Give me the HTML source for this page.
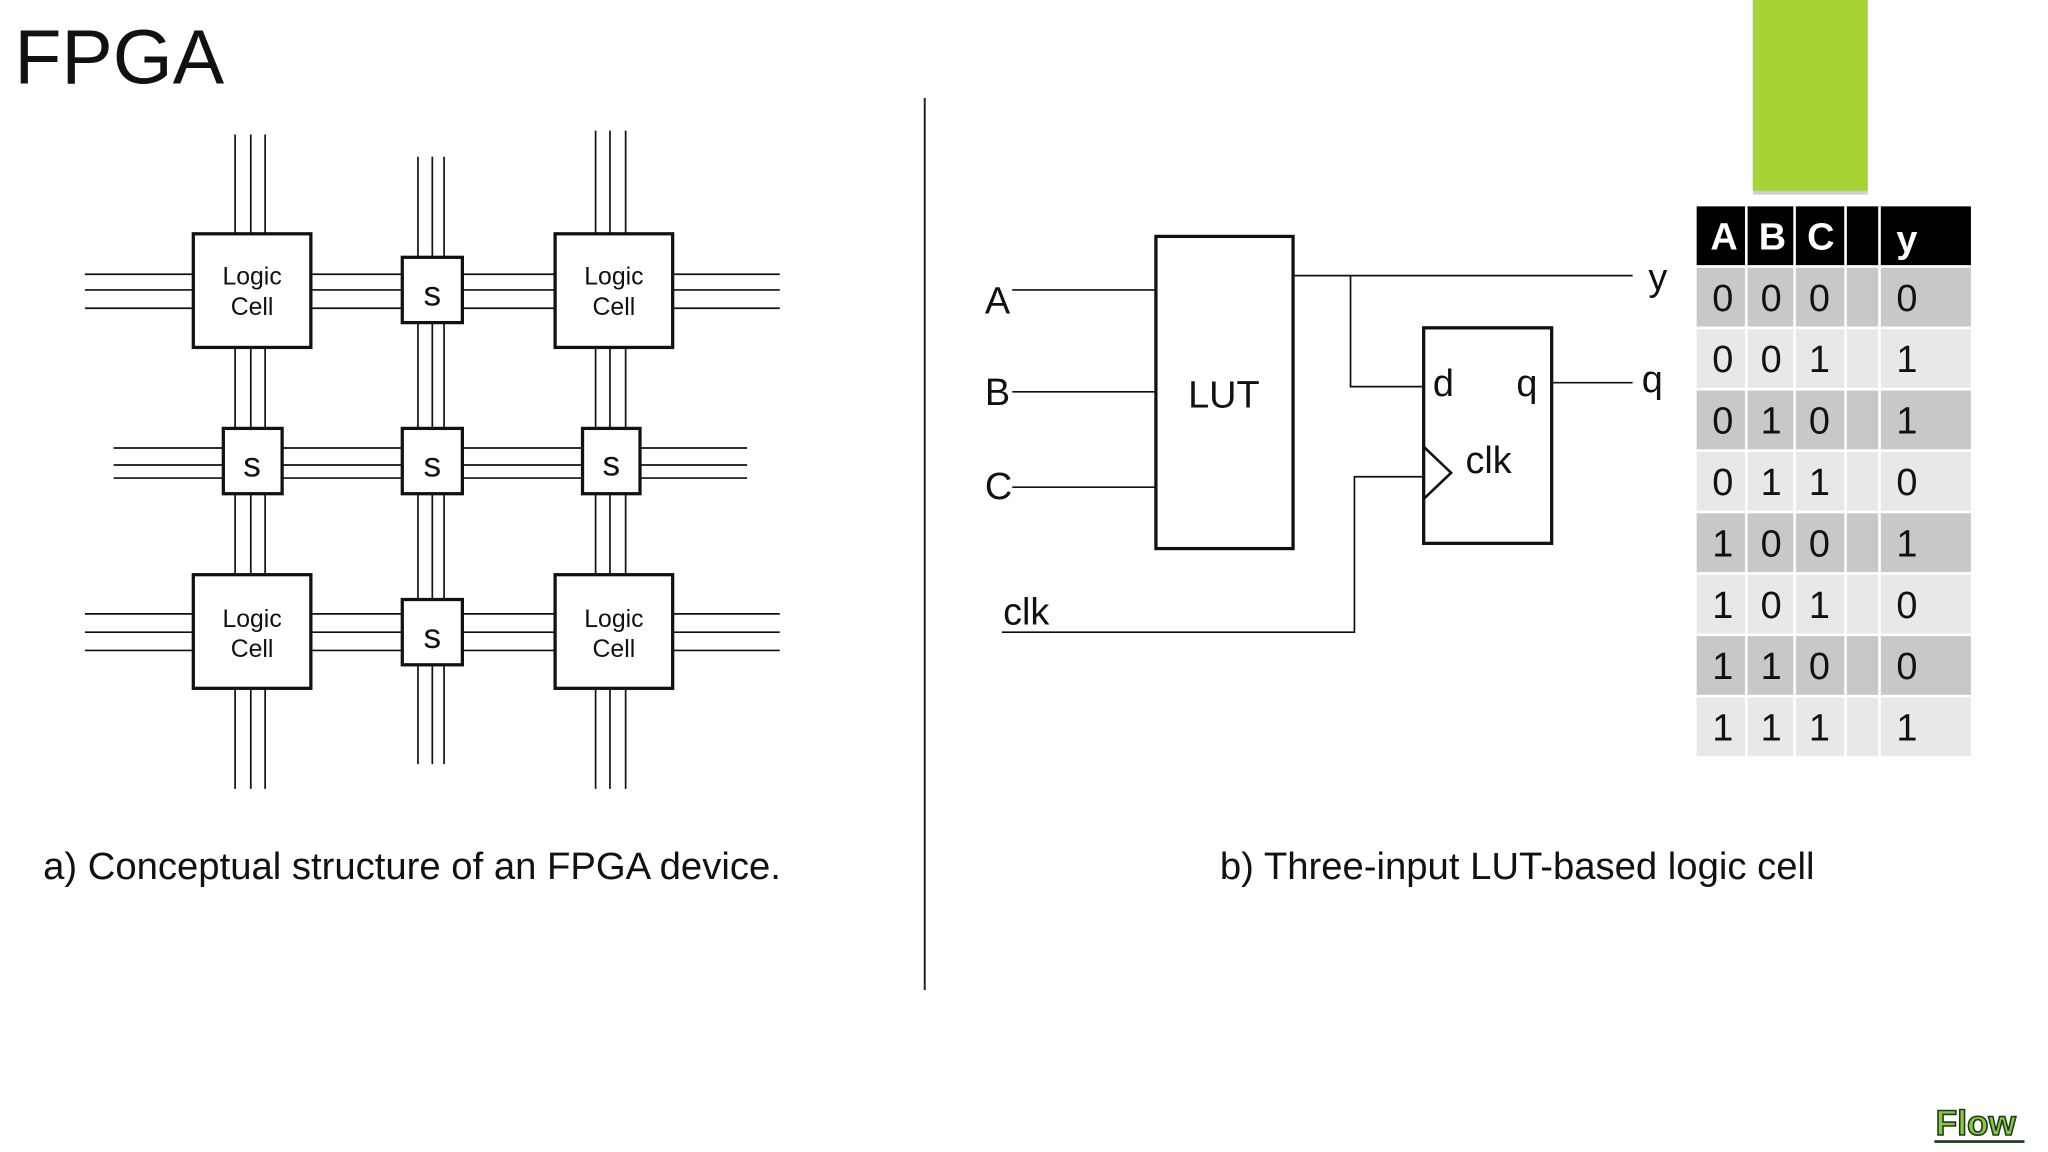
<!DOCTYPE html>
<html><head><meta charset="utf-8"><style>
html,body{margin:0;padding:0;background:#fff;}
svg{display:block;}
text{font-family:"Liberation Sans",Arial,sans-serif;fill:#111;}
</style></head><body>
<svg width="2048" height="1152" viewBox="0 0 1568 882" preserveAspectRatio="none" xmlns="http://www.w3.org/2000/svg">
<text x="11" y="64" font-size="59">FPGA</text>
<line x1="708" y1="75" x2="708" y2="758" stroke="#222" stroke-width="1.5"/>
<g stroke="#111" stroke-width="1.3" fill="none">
<line x1="65" y1="210" x2="597" y2="210"/><line x1="65" y1="222" x2="597" y2="222"/><line x1="65" y1="236" x2="597" y2="236"/>
<line x1="87" y1="343" x2="572" y2="343"/><line x1="87" y1="356" x2="572" y2="356"/><line x1="87" y1="366" x2="572" y2="366"/>
<line x1="65" y1="470" x2="597" y2="470"/><line x1="65" y1="484" x2="597" y2="484"/><line x1="65" y1="498" x2="597" y2="498"/>
<line x1="180" y1="103" x2="180" y2="604"/><line x1="192" y1="103" x2="192" y2="604"/><line x1="203" y1="103" x2="203" y2="604"/>
<line x1="320" y1="120" x2="320" y2="585"/><line x1="331" y1="120" x2="331" y2="585"/><line x1="340" y1="120" x2="340" y2="585"/>
<line x1="456" y1="100" x2="456" y2="604"/><line x1="467" y1="100" x2="467" y2="604"/><line x1="479" y1="100" x2="479" y2="604"/>
</g>
<g stroke="#111" stroke-width="2.5" fill="#fff">
<rect x="148" y="179" width="90" height="87"/><rect x="425" y="179" width="90" height="87"/>
<rect x="148" y="440" width="90" height="87"/><rect x="425" y="440" width="90" height="87"/>
<rect x="308" y="197" width="46" height="50"/>
<rect x="171" y="328" width="45" height="50"/><rect x="308" y="328" width="46" height="50"/><rect x="446" y="328" width="44" height="50"/>
<rect x="308" y="459" width="46" height="50"/>
</g>
<g font-size="19" text-anchor="middle">
<text x="193" y="218">Logic</text><text x="193" y="241">Cell</text>
<text x="470" y="218">Logic</text><text x="470" y="241">Cell</text>
<text x="193" y="480">Logic</text><text x="193" y="503">Cell</text>
<text x="470" y="480">Logic</text><text x="470" y="503">Cell</text>
</g>
<g font-size="27" text-anchor="middle">
<text x="331" y="234">s</text><text x="193" y="365">s</text><text x="331" y="365">s</text><text x="468" y="364">s</text><text x="331" y="496">s</text>
</g>
<text x="33" y="673" font-size="29.3">a) Conceptual structure of an FPGA device.</text>
<text x="934" y="673" font-size="29.3">b) Three-input LUT-based logic cell</text>
<g stroke="#111" stroke-width="1.3" fill="none">
<line x1="775" y1="222" x2="885" y2="222"/><line x1="775" y1="300" x2="885" y2="300"/><line x1="775" y1="373" x2="885" y2="373"/>
<polyline points="990,211 1250,211"/><polyline points="1034,211 1034,296 1090,296"/>
<line x1="1188" y1="293" x2="1250" y2="293"/>
<polyline points="767,484 1037,484 1037,365 1090,365"/>
</g>
<rect x="885" y="181" width="105" height="239" fill="none" stroke="#111" stroke-width="2.5"/>
<rect x="1090" y="251" width="98" height="165" fill="none" stroke="#111" stroke-width="2.5"/>
<polyline points="1090,342 1111,362 1090,382" fill="none" stroke="#111" stroke-width="2"/>
<g font-size="29">
<text x="754" y="240">A</text><text x="754" y="310">B</text><text x="754" y="382">C</text>
<text x="937" y="312" text-anchor="middle">LUT</text>
<text x="1262" y="222">y</text><text x="1257" y="300">q</text>
<text x="1097" y="303">d</text><text x="1161" y="303">q</text>
<text x="1122" y="362">clk</text><text x="768" y="478">clk</text>
</g>
<rect x="1342" y="0" width="88" height="149" fill="#9aa0a0" opacity="0.5"/>
<rect x="1342" y="0" width="88" height="146" fill="#a8d336"/>
<rect x="1299" y="158" width="210" height="45" fill="#000"/>
<g fill="#fff"><rect x="1336" y="158" width="2" height="45"/><rect x="1373" y="158" width="2" height="45"/><rect x="1412" y="158" width="2" height="45"/><rect x="1438" y="158" width="2" height="45"/></g>
<g font-size="29" font-weight="bold" text-anchor="middle">
<text x="1320" y="191" style="fill:#fff">A</text><text x="1357" y="191" style="fill:#fff">B</text><text x="1394" y="191" style="fill:#fff">C</text><text x="1460" y="193" style="fill:#fff">y</text>
</g>
<g>
<rect x="1299" y="205" width="210" height="45" fill="#c8c8c8"/>
<rect x="1299" y="252" width="210" height="45" fill="#e8e8e8"/>
<rect x="1299" y="299" width="210" height="45" fill="#c8c8c8"/>
<rect x="1299" y="346" width="210" height="45" fill="#e8e8e8"/>
<rect x="1299" y="393" width="210" height="45" fill="#c8c8c8"/>
<rect x="1299" y="440" width="210" height="45" fill="#e8e8e8"/>
<rect x="1299" y="487" width="210" height="45" fill="#c8c8c8"/>
<rect x="1299" y="534" width="210" height="45" fill="#e8e8e8"/>
</g>
<g fill="#fff"><rect x="1336" y="205" width="2" height="374"/><rect x="1373" y="205" width="2" height="374"/><rect x="1412" y="205" width="2" height="374"/><rect x="1438" y="205" width="2" height="374"/></g>
<g font-size="29" text-anchor="middle">
<text x="1319" y="238">0</text><text x="1356" y="238">0</text><text x="1393" y="238">0</text><text x="1460" y="238">0</text>
<text x="1319" y="285">0</text><text x="1356" y="285">0</text><text x="1393" y="285">1</text><text x="1460" y="285">1</text>
<text x="1319" y="332">0</text><text x="1356" y="332">1</text><text x="1393" y="332">0</text><text x="1460" y="332">1</text>
<text x="1319" y="379">0</text><text x="1356" y="379">1</text><text x="1393" y="379">1</text><text x="1460" y="379">0</text>
<text x="1319" y="426">1</text><text x="1356" y="426">0</text><text x="1393" y="426">0</text><text x="1460" y="426">1</text>
<text x="1319" y="473">1</text><text x="1356" y="473">0</text><text x="1393" y="473">1</text><text x="1460" y="473">0</text>
<text x="1319" y="520">1</text><text x="1356" y="520">1</text><text x="1393" y="520">0</text><text x="1460" y="520">0</text>
<text x="1319" y="567">1</text><text x="1356" y="567">1</text><text x="1393" y="567">1</text><text x="1460" y="567">1</text>
</g>
<text x="1482" y="869" font-size="27" font-weight="bold" style="fill:#8cc63f;stroke:#1a3a1a;stroke-width:1.2">Flow</text>
<line x1="1481" y1="874" x2="1550" y2="874" stroke="#1a3a1a" stroke-width="2"/>
</svg>
</body></html>
